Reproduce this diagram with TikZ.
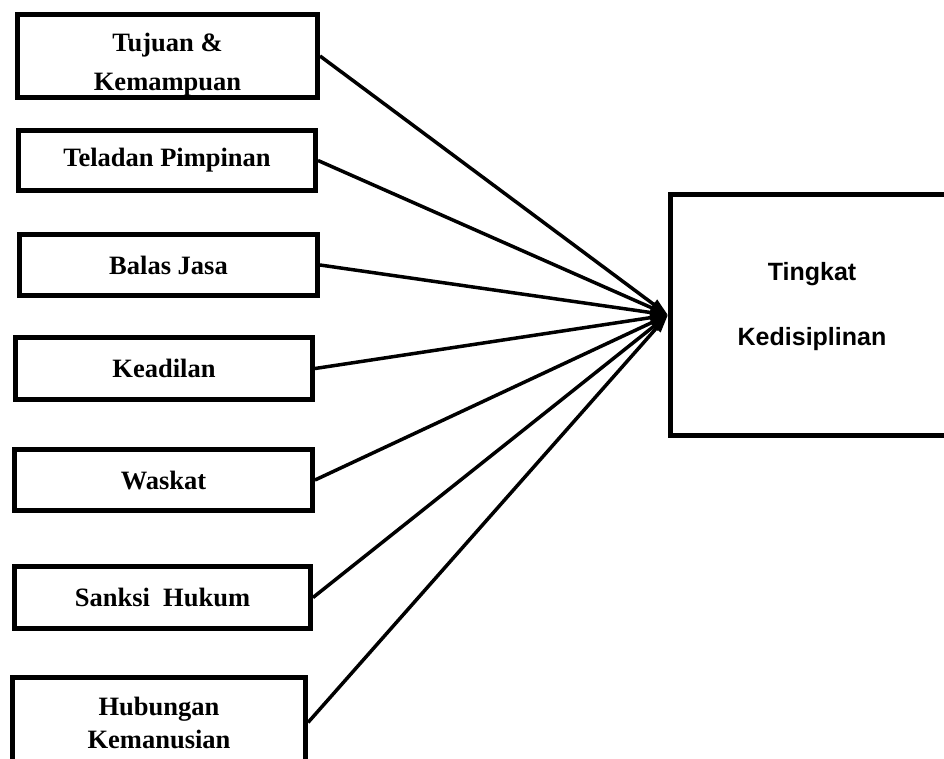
\documentclass[tikz,border=0pt]{standalone}
\usepackage{fontspec}
\setmainfont{Liberation Serif}
\newfontfamily\sansfont{Liberation Sans}
\usetikzlibrary{arrows.meta,positioning}

\begin{document}
\begin{tikzpicture}[x=1pt,y=-1pt,
  factor/.style={draw,line width=5pt,align=center,inner sep=0pt,
    font=\fontsize{26.5}{39}\selectfont\bfseries},
  result/.style={draw,line width=5pt,minimum width=283pt,minimum height=241pt},
  link/.style={line width=3.5pt,-{Triangle[length=18pt,width=11pt]}}]
  \useasboundingbox (0,0) rectangle (944,758);
  \clip (0,0) rectangle (944,758);
  % faktor-faktor disiplin
  \node[factor,minimum width=300pt,minimum height=83pt,text depth=-12pt] (tujuan) at (167.5,56) {\rule{0pt}{30pt}Tujuan \&\\Kemampuan};
  \node[factor,minimum width=297pt,minimum height=60pt] (teladan) at (167,160.5) {Teladan Pimpinan};
  \node[factor,minimum width=298pt,minimum height=61pt] (balas) at (168.5,265) {Balas Jasa};
  \node[factor,minimum width=297pt,minimum height=62pt] (adil) at (164,368.5) {Keadilan};
  \node[factor,minimum width=298pt,minimum height=61pt] (waskat) at (163.5,480) {Waskat};
  \node[factor,minimum width=296pt,minimum height=62pt] (sanksi) at (162.5,597.5) {Sanksi~ Hukum};
  \node[factor,minimum width=293pt,minimum height=90pt,font=\fontsize{26.5}{33}\selectfont\bfseries] (hubungan) at (159,722.5) {Hubungan\\Kemanusian};
  % variabel terikat
  \node[result] (disiplin) at (812,315) {};
  \node[align=center,font=\sansfont\fontsize{25}{65}\selectfont\bfseries] (disiplintext) at (812,307) {Tingkat\\Kedisiplinan};
  \foreach \f in {tujuan,teladan,balas,adil,waskat,sanksi,hubungan}{\draw[link] (\f.east)--(disiplin.west);}
\end{tikzpicture}
\end{document}
